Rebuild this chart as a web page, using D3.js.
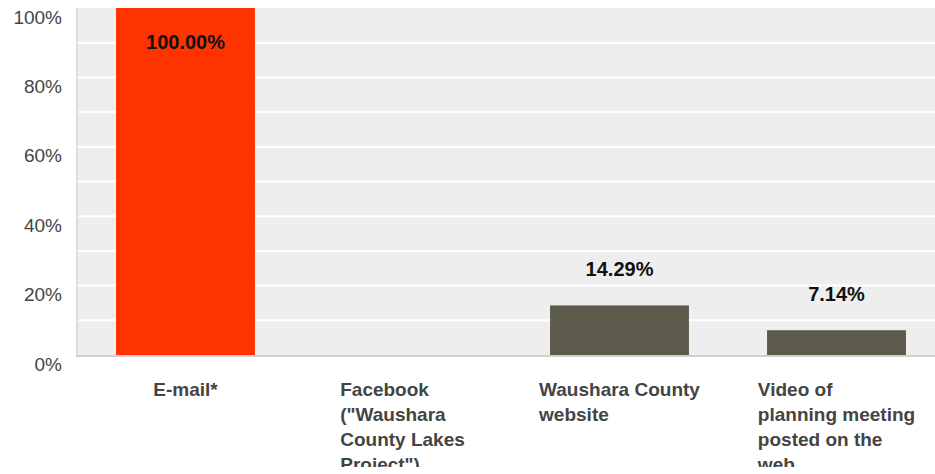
<!DOCTYPE html>
<html>
<head>
<meta charset="utf-8">
<script src="https://cdn.jsdelivr.net/npm/d3@7"></script>
<style>
  html, body { margin: 0; padding: 0; background: #fff; }
  svg { display: block; overflow: hidden; }
  text { font-family: "Liberation Sans", Arial, Helvetica, sans-serif; }
</style>
</head>
<body>
<svg id="chart" width="935" height="467"></svg>
<script>
const categories = ["E-mail*", "Facebook (\"Waushara County Lakes Project\")", "Waushara County website", "Video of planning meeting posted on the web"];
const values = [1.0, 0.0, 0.1429, 0.0714];
const valueLabels = ["100.00%", "", "14.29%", "7.14%"];
const barColors = ["#ff3300", "#5c5a4b", "#5c5a4b", "#5c5a4b"];
const yTickValues = [0, 0.2, 0.4, 0.6, 0.8, 1.0];
const yTickLabels = ["0%", "20%", "40%", "60%", "80%", "100%"];
const gridValues = [0.1, 0.2, 0.3, 0.4, 0.5, 0.6, 0.7, 0.8, 0.9];

const svg = d3.select("#chart");
const pLeft = 77, pRight = 945, pTop = 8, pBottom = 355;

const x = d3.scaleBand().domain(categories).range([pLeft, pRight]).paddingInner(0.36).paddingOuter(0.18);
const y = d3.scaleLinear().domain([0, 1]).range([pBottom, pTop]);

// plot background
svg.append("rect").attr("x", pLeft).attr("y", pTop).attr("width", pRight - pLeft).attr("height", pBottom - pTop).attr("fill", "#eeeeee");

// gridlines
svg.append("g").selectAll("line").data(gridValues).join("line")
  .attr("x1", pLeft).attr("x2", pRight)
  .attr("y1", d => y(d)).attr("y2", d => y(d))
  .attr("stroke", "#ffffff").attr("stroke-width", 2);

// axes lines
svg.append("line").attr("x1", 77).attr("x2", 77).attr("y1", pTop).attr("y2", pBottom + 1)
  .attr("stroke", "#dddddd").attr("stroke-width", 2);
svg.append("line").attr("x1", 76).attr("x2", pRight).attr("y1", pBottom + 1).attr("y2", pBottom + 1)
  .attr("stroke", "#d0d0d0").attr("stroke-width", 2);

// bars
svg.append("g").selectAll("rect").data(categories).join("rect")
  .attr("x", d => x(d)).attr("width", x.bandwidth())
  .attr("y", (d, i) => y(values[i])).attr("height", (d, i) => y(0) - y(values[i]))
  .attr("fill", (d, i) => barColors[i]);

// value labels
svg.append("g").selectAll("text").data(categories).join("text")
  .attr("x", d => x(d) + x.bandwidth() / 2)
  .attr("y", (d, i) => {
    const t = y(values[i]);
    return (t - 36 < 20) ? t + 34 : t - 36;
  })
  .attr("dy", "0.35em")
  .attr("text-anchor", "middle")
  .attr("font-size", 20).attr("font-weight", "bold").attr("fill", "#111")
  .text((d, i) => valueLabels[i]);

// y axis labels
const yAxis = d3.axisLeft(y).tickValues(yTickValues).tickFormat((d, i) => yTickLabels[i]).tickSize(0).tickPadding(0);
const gy = svg.append("g").attr("transform", "translate(62,9)").call(yAxis);
gy.select(".domain").remove();
gy.selectAll("text").attr("font-size", 19).attr("fill", "#444").attr("font-family", "Liberation Sans, Arial, sans-serif");

// x axis labels (wrapped, at most 16 characters per line)
const maxChars = 16;
const xg = svg.append("g");
categories.forEach((c, i) => {
  const t = xg.append("text").attr("font-size", 19).attr("font-weight", "bold").attr("fill", "#444");
  const words = c.split(" ");
  let lines = [], line = [];
  words.forEach(w => {
    const test = line.concat([w]).join(" ");
    if (test.length > maxChars && line.length) {
      lines.push(line.join(" "));
      line = [w];
    } else {
      line.push(w);
    }
  });
  lines.push(line.join(" "));
  let blockW = 0;
  lines.forEach(l => {
    const s = t.append("tspan").text(l);
    blockW = Math.max(blockW, s.node().getComputedTextLength());
  });
  const cx = x(c) + x.bandwidth() / 2;
  const x0 = cx - blockW / 2;
  t.selectAll("tspan").attr("x", x0).attr("y", (d, k) => 389 + k * 25).attr("dy", "0.35em");
});
</script>
</body>
</html>
